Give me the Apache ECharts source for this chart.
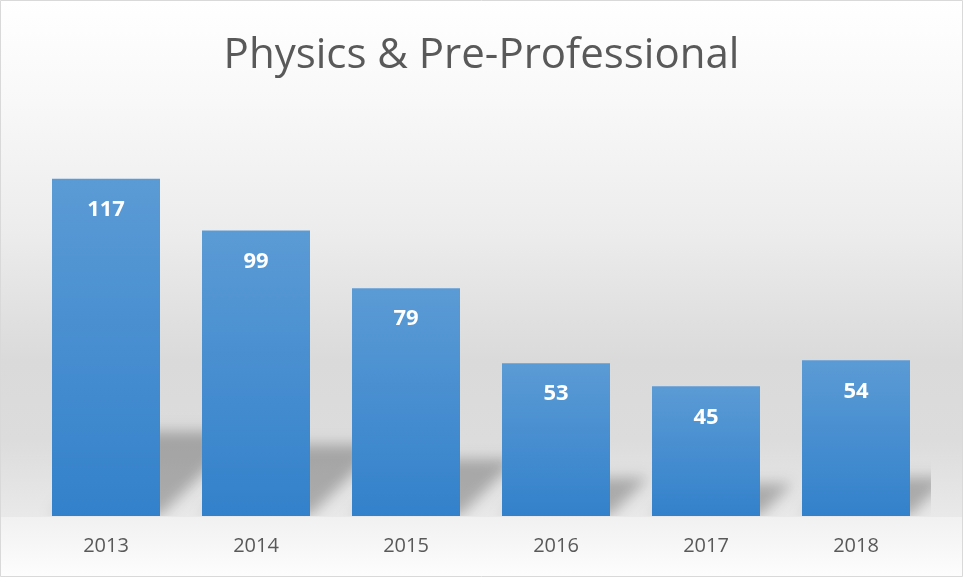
<!DOCTYPE html>
<html>
<head>
<meta charset="utf-8">
<title>Physics &amp; Pre-Professional</title>
<script src="https://cdn.jsdelivr.net/npm/echarts@6/dist/echarts.min.js"></script>
<style>
  html, body { margin: 0; padding: 0; background: #ffffff; }
  #chart { width: 963px; height: 577px; }
</style>
</head>
<body>
<div id="chart"></div>
<script>
// Enrolment counts by year
const chartTitle = 'Physics & Pre-Professional';
const years = ['2013', '2014', '2015', '2016', '2017', '2018'];
const counts = [117, 99, 79, 53, 45, 54];

const chart = echarts.init(document.getElementById('chart'), null, { renderer: 'canvas' });

const BAR_GAP = 0.28;      // fraction of each category left empty
const SHADOW_OFF = 3000;   // shapes drawn off-canvas so only their blurred shadow lands

const option = {
  animation: false,
  backgroundColor: '#ffffff',
  graphic: [
    {
      type: 'rect', z: -10, silent: true,
      shape: { x: 0, y: 0, width: 963, height: 517 },
      style: {
        fill: new echarts.graphic.LinearGradient(0, 0, 0, 1, [
          { offset: 0, color: '#ffffff' },
          { offset: 0.2, color: '#f8f8f8' },
          { offset: 0.45, color: '#ececec' },
          { offset: 0.7, color: '#dadada' },
          { offset: 0.85, color: '#dcdcdc' },
          { offset: 1, color: '#e9e9e9' }
        ])
      }
    },
    {
      type: 'rect', z: -10, silent: true,
      shape: { x: 0, y: 517, width: 963, height: 60 },
      style: {
        fill: new echarts.graphic.LinearGradient(0, 0, 0, 1, [
          { offset: 0, color: '#f1f1f1' },
          { offset: 1, color: '#fdfdfd' }
        ])
      }
    },
    {
      type: 'rect', z: 100, silent: true,
      shape: { x: 0.5, y: 0.5, width: 962, height: 576 },
      style: { fill: 'none', stroke: '#d9d9d9', lineWidth: 1 }
    }
  ],
  title: {
    text: chartTitle,
    left: 'center',
    top: 30,
    textStyle: {
      fontFamily: 'Open Sans',
      fontSize: 42,
      fontWeight: 'normal',
      color: '#595959'
    }
  },
  grid: { left: 31, right: 32, top: 170, bottom: 61 },
  xAxis: {
    type: 'category',
    data: years,
    axisLine: { show: false },
    axisTick: { show: false },
    axisLabel: {
      color: '#595959',
      fontFamily: 'Open Sans',
      fontSize: 20,
      margin: 20
    }
  },
  yAxis: {
    type: 'value',
    min: 0,
    max: 120,
    show: false,
    splitLine: { show: false }
  },
  series: [
    {
      // soft floor shadow cast up and to the right behind each bar
      type: 'custom',
      z: 1,
      clip: true,
      silent: true,
      data: counts.map((v, i) => [i, v]),
      renderItem: function (params, api) {
        const base = api.coord([api.value(0), 0]);
        const top = api.coord([api.value(0), api.value(1)]);
        const bw = api.size([1, 0])[0] * (1 - BAR_GAP);
        const x0 = base[0] - bw / 2;
        const x1 = base[0] + bw / 2;
        const by = base[1];
        const h = (by - top[1]) * 0.25;
        const sx = h * 1.0;
        const pts = [
          [x0 - SHADOW_OFF, by],
          [x1 - SHADOW_OFF, by],
          [x1 + sx - SHADOW_OFF, by - h],
          [x0 + sx - SHADOW_OFF, by - h]
        ];
        return {
          type: 'polygon',
          shape: { points: pts },
          style: {
            fill: '#000000',
            opacity: 1,
            shadowColor: 'rgba(0,0,0,0.26)',
            shadowBlur: 14,
            shadowOffsetX: SHADOW_OFF,
            shadowOffsetY: 0
          }
        };
      }
    },
    {
      type: 'bar',
      z: 2,
      data: counts,
      barCategoryGap: (BAR_GAP * 100) + '%',
      itemStyle: {
        color: new echarts.graphic.LinearGradient(0, 0, 0, 1, [
          { offset: 0, color: '#5b9bd5' },
          { offset: 1, color: '#3381cb' }
        ])
      },
      label: {
        show: true,
        position: 'insideTop',
        distance: 20,
        color: '#ffffff',
        fontFamily: 'Open Sans',
        fontWeight: 'bold',
        fontSize: 22
      }
    }
  ]
};

chart.setOption(option);
</script>
</body>
</html>
